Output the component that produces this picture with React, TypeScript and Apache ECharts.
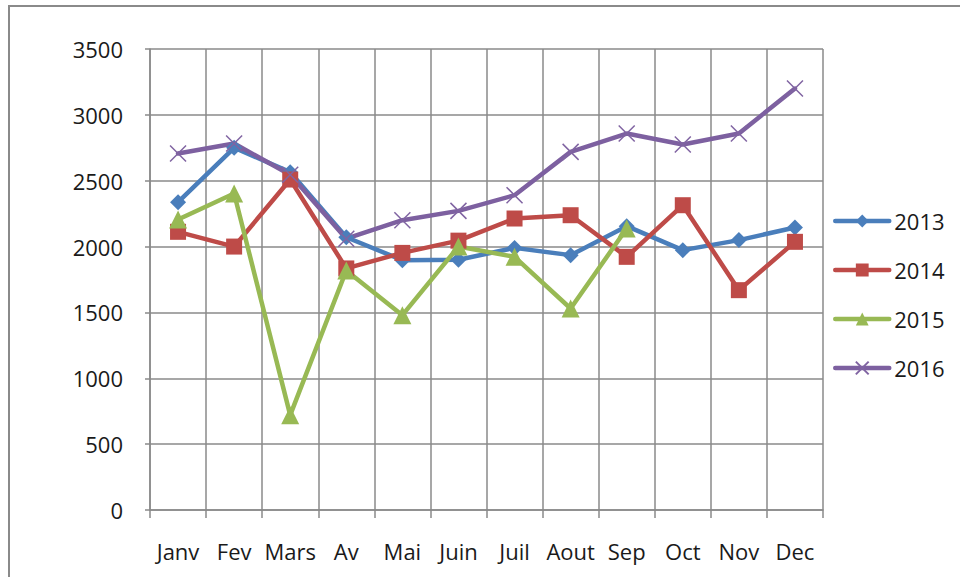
import React, { useEffect, useRef } from "react";
import * as echarts from "echarts";

const months = ["Janv", "Fev", "Mars", "Av", "Mai", "Juin", "Juil", "Aout", "Sep", "Oct", "Nov", "Dec"];
const s2013 = [2337, 2750, 2565, 2071, 1897, 1900, 1990, 1935, 2155, 1973, 2049, 2145];
const s2014 = [2112, 2000, 2509, 1834, 1952, 2045, 2213, 2238, 1922, 2314, 1669, 2036];
const s2015 = [2206, 2403, 720, 1818, 1479, 2000, 1922, 1530, 2137, null, null, null];
const s2016 = [2706, 2782, 2545, 2060, 2200, 2271, 2390, 2719, 2858, 2775, 2858, 3200];
const yTicks = { min: 0, max: 3500, interval: 500 };

const FONT = "'Open Sans', 'Liberation Sans', sans-serif";
const GRID = "#8a8a8a";

export default function App() {
  const ref = useRef<HTMLDivElement>(null);
  useEffect(() => {
    if (!ref.current) return;
    const chart = echarts.init(ref.current, undefined, { renderer: "svg" });
    const mk = (name: string, data: any[], color: string, symbol: string, size: number, extra: any = {}) => ({
      name,
      type: "line",
      data,
      symbol,
      symbolSize: size,
      showSymbol: true,
      lineStyle: { color, width: 4.5, cap: "round", join: "round" },
      itemStyle: { color, ...extra },
      emphasis: { disabled: true },
    });
    chart.setOption({
      animation: false,
      backgroundColor: "#ffffff",
      textStyle: { fontFamily: FONT },
      grid: { left: 150, right: 137, top: 49, bottom: 67, containLabel: false },
      legend: {
        orient: "vertical",
        left: 833,
        top: 210,
        itemWidth: 54,
        itemHeight: 16,
        itemGap: 27,
        padding: 0,
        lineStyle: { width: 4.5 },
        textStyle: { fontSize: 22, color: "#1a1a1a", fontFamily: FONT },
        data: ["2013", "2014", "2015", "2016"],
      },
      xAxis: {
        type: "category",
        data: months,
        boundaryGap: true,
        axisLine: { show: true, lineStyle: { color: GRID, width: 1.5 } },
        axisTick: { show: true, length: 8, alignWithLabel: false, lineStyle: { color: GRID, width: 1.5 } },
        splitLine: { show: true, lineStyle: { color: GRID, width: 1.5 } },
        axisLabel: { fontSize: 22, color: "#1a1a1a", margin: 30, fontFamily: FONT, interval: 0 },
      },
      yAxis: {
        type: "value",
        min: yTicks.min,
        max: yTicks.max,
        interval: yTicks.interval,
        axisLine: { show: true, lineStyle: { color: GRID, width: 1.5 } },
        axisTick: { show: true, length: 5, lineStyle: { color: GRID, width: 1.5 } },
        splitLine: { show: true, lineStyle: { color: GRID, width: 1.5 } },
        axisLabel: {
          fontSize: 22,
          color: "#1a1a1a",
          margin: 27,
          fontFamily: FONT,
          formatter: (v: number) => String(v),
        },
      },
      graphic: [
        {
          type: "rect",
          shape: { x: 9, y: 6, width: 1200, height: 1200 },
          style: { fill: "none", stroke: "#8a8a8a", lineWidth: 2 },
          silent: true,
          z: 100,
        },
      ],
      series: [
        mk("2013", s2013, "#4a7ebb", "diamond", 16),
        mk("2014", s2014, "#be4b48", "rect", 16),
        mk("2015", s2015, "#98b954", "triangle", 18),
        {
          ...mk("2016", s2016, "#7d60a0", "path://M0,0L10,10M10,0L0,10", 16),
          itemStyle: { color: "none", borderColor: "#8064a2", borderWidth: 1.5 },
        },
      ],
    });
    return () => chart.dispose();
  }, []);
  return (
    <div
      ref={ref}
      style={{ position: "absolute", left: 0, top: 0, width: 960, height: 577, background: "#fff" }}
    />
  );
}
